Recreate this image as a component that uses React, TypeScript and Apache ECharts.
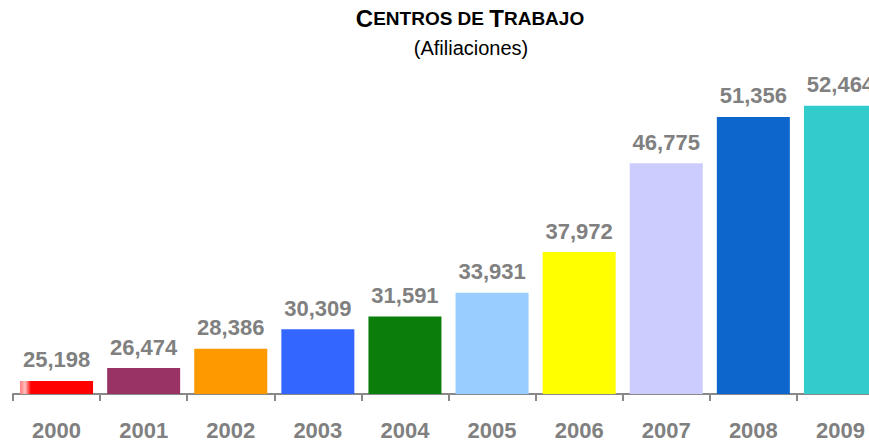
import React, { useEffect, useRef } from "react";
import * as echarts from "echarts";

const years = ["2000", "2001", "2002", "2003", "2004", "2005", "2006", "2007", "2008", "2009"];
const afiliaciones = [25198, 26474, 28386, 30309, 31591, 33931, 37972, 46775, 51356, 52464];

const barColors: any[] = [
  new echarts.graphic.LinearGradient(0, 0, 1, 0, [
    { offset: 0, color: "#ff7a7a" },
    { offset: 0.07, color: "#ffc0c0" },
    { offset: 0.15, color: "#ff0000" },
    { offset: 1, color: "#ff0000" },
  ]),
  "#993366",
  "#ff9900",
  "#3366ff",
  "#0b7d0b",
  "#99ccff",
  "#ffff00",
  "#ccccff",
  "#0c66cc",
  "#33cccc",
];

const FONT = "Arial, 'Liberation Sans', sans-serif";
const GREY = "#808080";

export default function App() {
  const ref = useRef<HTMLDivElement>(null);
  useEffect(() => {
    if (!ref.current) return;
    const chart = echarts.init(ref.current, undefined, { renderer: "svg" });
    chart.setOption({
      animation: false,
      backgroundColor: "#ffffff",
      title: [
        {
          text: "{b|C}{s|ENTROS DE }{b|T}{s|RABAJO}",
          left: 470,
          top: 6,
          textAlign: "center",
          padding: 0,
          textStyle: {
            rich: {
              b: { fontSize: 24, fontWeight: "bold", color: "#000", fontFamily: FONT },
              s: { fontSize: 19, fontWeight: "bold", color: "#000", fontFamily: FONT },
            },
          },
        },
        {
          text: "(Afiliaciones)",
          left: 471,
          top: 38,
          textAlign: "center",
          padding: 0,
          textStyle: { fontSize: 20, fontWeight: "normal", color: "#000", fontFamily: FONT },
        },
      ],
      grid: {
        left: 13,
        right: -15,
        top: 60,
        bottom: 48,
        containLabel: false,
        outerBoundsMode: "none",
      },
      xAxis: {
        type: "category",
        data: years,
        axisLine: { show: true, lineStyle: { color: "#888888", width: 2 } },
        axisTick: { show: true, length: 7, interval: 0, lineStyle: { color: "#888888", width: 2 } },
        axisLabel: {
          interval: 0,
          margin: 25,
          fontSize: 22,
          fontWeight: "bold",
          color: GREY,
          fontFamily: FONT,
        },
      },
      yAxis: {
        type: "value",
        min: 23900,
        max: 57000,
        show: false,
        splitLine: { show: false },
      },
      series: [
        {
          type: "bar",
          barWidth: 73,
          data: afiliaciones.map((v, i) => ({ value: v, itemStyle: { color: barColors[i] } })),
          label: {
            show: true,
            position: "top",
            distance: 10,
            fontSize: 22,
            fontWeight: "bold",
            color: GREY,
            fontFamily: FONT,
            formatter: (p: any) => Number(p.value).toLocaleString("en-US"),
          },
        },
      ],
    });
    return () => chart.dispose();
  }, []);
  return <div ref={ref} style={{ width: 869, height: 442, position: "absolute", left: 0, top: 0 }} />;
}
